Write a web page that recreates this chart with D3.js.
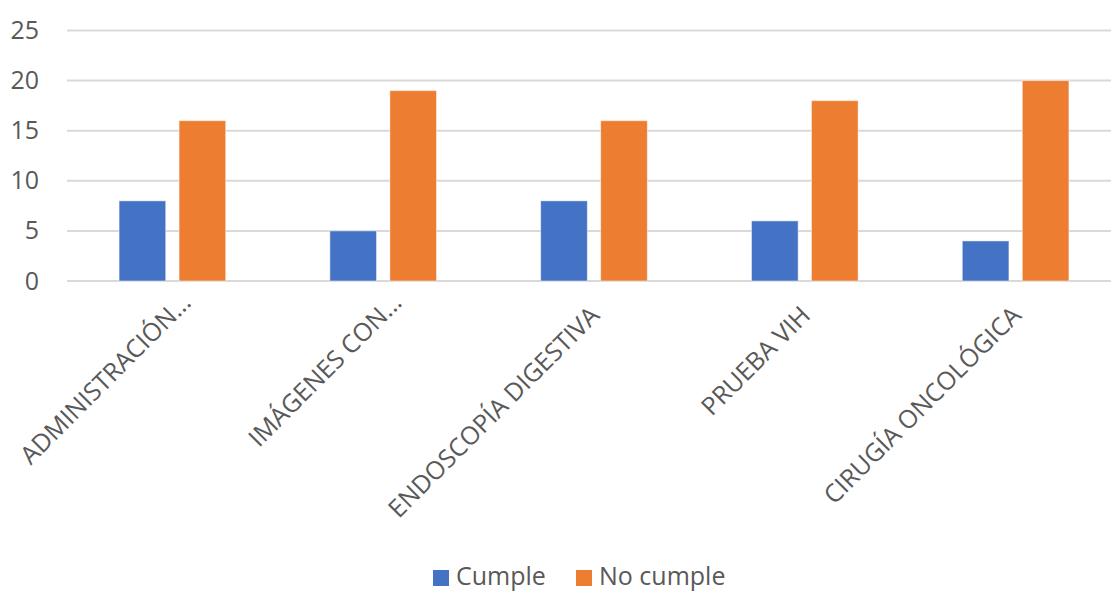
<!DOCTYPE html>
<html><head><meta charset="utf-8">
<script src="https://cdn.jsdelivr.net/npm/d3@7"></script>
<style>
body{margin:0;background:#fff;}
svg{display:block;font-family:"Open Sans",sans-serif;}
</style></head>
<body>
<svg id="chart" width="1111" height="592"></svg>
<script>
const categories = ["ADMINISTRACIÓN...", "IMÁGENES CON...", "ENDOSCOPÍA DIGESTIVA", "PRUEBA VIH", "CIRUGÍA ONCOLÓGICA"];
const seriesNames = ["Cumple", "No cumple"];
const cumple = [8, 5, 8, 6, 4];
const noCumple = [16, 19, 16, 18, 20];
const yTicks = [0, 5, 10, 15, 20, 25];
const colors = ["#4472C4", "#ED7D31"];

const svg = d3.select("#chart");
const x0 = d3.scaleBand().domain(categories).range([67, 1121]).paddingInner(0.494).paddingOuter(0.247);
const x1 = d3.scaleBand().domain(seriesNames).range([0, x0.bandwidth()]).paddingInner(0.222);
const y = d3.scaleLinear().domain([0, 25]).range([281, 30.5]);

// gridlines
svg.append("g").selectAll("line").data(yTicks).join("line")
  .attr("x1", 67).attr("x2", 1121)
  .attr("y1", d => y(d)).attr("y2", d => y(d))
  .attr("stroke", "#D9D9D9").attr("stroke-width", 2);

// y tick labels
const yAxis = d3.axisLeft(y).tickValues(yTicks).tickSize(0).tickPadding(0);
const ya = svg.append("g").attr("transform", "translate(39,0)").call(yAxis);
ya.select(".domain").remove();
ya.selectAll("text").attr("fill", "#595959").attr("font-size", 25)
  .attr("font-family", "'Open Sans',sans-serif");

// bars
const data = categories.map((c, i) => ({c, vals: [cumple[i], noCumple[i]]}));
const groups = svg.append("g").selectAll("g").data(data).join("g")
  .attr("transform", d => `translate(${x0(d.c)},0)`);
groups.selectAll("rect").data(d => d.vals.map((v, j) => ({s: seriesNames[j], v, j})))
  .join("rect")
  .attr("x", d => x1(d.s)).attr("width", x1.bandwidth())
  .attr("y", d => y(d.v)).attr("height", d => y(0) - y(d.v))
  .attr("fill", d => colors[d.j])
  .attr("stroke", "#ffffff").attr("stroke-opacity", 0.5).attr("stroke-width", 1);

// x labels rotated (truncated labels sit further along their baseline)
const xa = svg.append("g");
xa.selectAll("text").data(categories).join("text")
  .attr("transform", d => {
    const cx = x0(d) + x0.bandwidth() / 2;
    const extra = d.endsWith("...") ? 13 : 0;
    return `translate(${cx + 7 + extra},${317 - extra}) rotate(-45)`;
  })
  .attr("text-anchor", "end")
  .attr("font-size", 25).attr("fill", "#595959")
  .text(d => d);

// legend
const legend = svg.append("g");
const legX = [433, 576];
seriesNames.forEach((s, i) => {
  legend.append("rect").attr("x", legX[i]).attr("y", 570).attr("width", 16).attr("height", 16).attr("fill", colors[i]);
  legend.append("text").attr("x", legX[i] + 23).attr("y", 585)
    .attr("font-size", 25).attr("fill", "#595959").text(s);
});
</script>
</body></html>
